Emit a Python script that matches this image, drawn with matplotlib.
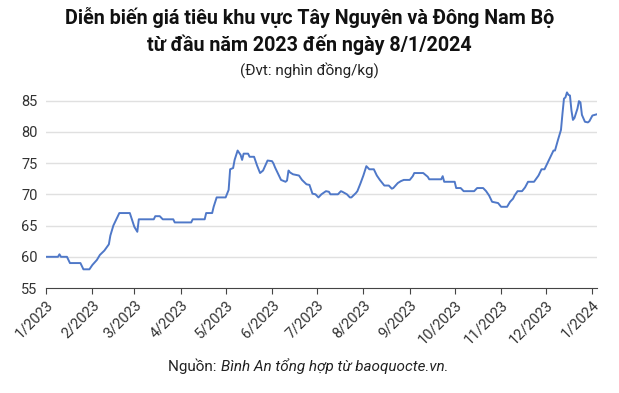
import pandas as pd
import matplotlib
matplotlib.use("Agg")
import matplotlib.pyplot as plt
import matplotlib.dates as mdates

plt.rcParams["font.family"] = ["Roboto", "DejaVu Sans"]

# pepper price, thousand VND/kg
dates = [
    "2023-01-01", "2023-01-09", "2023-01-10", "2023-01-11", "2023-01-15", "2023-01-17",
    "2023-01-24", "2023-01-26", "2023-01-30", "2023-02-01", "2023-02-04", "2023-02-06",
    "2023-02-09", "2023-02-12", "2023-02-13", "2023-02-15", "2023-02-17", "2023-02-19",
    "2023-02-26", "2023-03-01", "2023-03-03", "2023-03-04", "2023-03-14", "2023-03-15",
    "2023-03-18", "2023-03-20", "2023-03-27", "2023-03-28", "2023-04-08", "2023-04-09",
    "2023-04-17", "2023-04-18", "2023-04-22", "2023-04-23", "2023-04-25", "2023-05-01",
    "2023-05-03", "2023-05-04", "2023-05-06", "2023-05-07", "2023-05-09", "2023-05-11",
    "2023-05-12", "2023-05-13", "2023-05-16", "2023-05-17", "2023-05-20", "2023-05-22",
    "2023-05-24", "2023-05-26", "2023-05-29", "2023-06-01", "2023-06-02", "2023-06-03",
    "2023-06-05", "2023-06-07", "2023-06-10", "2023-06-11", "2023-06-12", "2023-06-13",
    "2023-06-15", "2023-06-19", "2023-06-21", "2023-06-24", "2023-06-26", "2023-06-28",
    "2023-06-30", "2023-07-02", "2023-07-04", "2023-07-07", "2023-07-09", "2023-07-10",
    "2023-07-15", "2023-07-17", "2023-07-18", "2023-07-21", "2023-07-23", "2023-07-24",
    "2023-07-27", "2023-07-28", "2023-07-30", "2023-08-01", "2023-08-03", "2023-08-05",
    "2023-08-08", "2023-08-10", "2023-08-12", "2023-08-15", "2023-08-18", "2023-08-20",
    "2023-08-21", "2023-08-24", "2023-08-26", "2023-08-28", "2023-09-01", "2023-09-03",
    "2023-09-04", "2023-09-10", "2023-09-13", "2023-09-14", "2023-09-22", "2023-09-23",
    "2023-09-24", "2023-10-01", "2023-10-02", "2023-10-05", "2023-10-07", "2023-10-14",
    "2023-10-16", "2023-10-20", "2023-10-22", "2023-10-24", "2023-10-26", "2023-10-30",
    "2023-11-01", "2023-11-05", "2023-11-07", "2023-11-09", "2023-11-10", "2023-11-12",
    "2023-11-15", "2023-11-17", "2023-11-19", "2023-11-23", "2023-11-26", "2023-11-28",
    "2023-11-30", "2023-12-02", "2023-12-04", "2023-12-06", "2023-12-07", "2023-12-09",
    "2023-12-11", "2023-12-12", "2023-12-13", "2023-12-14", "2023-12-15", "2023-12-16",
    "2023-12-17", "2023-12-18", "2023-12-19", "2023-12-20", "2023-12-22", "2023-12-23",
    "2023-12-24", "2023-12-25", "2023-12-27", "2023-12-29", "2023-12-30", "2024-01-01",
    "2024-01-04",
]
prices = [
    60, 60, 60.4, 60, 60, 59,
    59, 58, 58, 58.7, 59.5, 60.3,
    61, 62, 63.4, 65, 66, 67,
    67, 64.8, 64, 66, 66, 66.5,
    66.5, 66, 66, 65.5, 65.5, 66,
    66, 67, 67, 68, 69.5, 69.5,
    70.7, 74, 74.2, 75.5, 77, 76.3,
    75.5, 76.5, 76.5, 76, 76, 74.6,
    73.4, 73.8, 75.4, 75.3, 74.9, 74.3,
    73.3, 72.3, 72, 72.2, 73.8, 73.5,
    73.2, 73, 72.3, 71.6, 71.5, 70.1,
    70, 69.5, 70, 70.5, 70.4, 70,
    70, 70.5, 70.4, 70, 69.5, 69.5,
    70.2, 70.5, 71.7, 73, 74.5, 74,
    74, 73, 72.3, 71.4, 71.4, 70.9,
    71, 71.8, 72.1, 72.3, 72.3, 72.9,
    73.4, 73.4, 72.8, 72.4, 72.4, 72.9,
    72, 72, 71, 71, 70.5, 70.5,
    71, 71, 70.5, 69.8, 68.8, 68.6,
    68, 68, 68.8, 69.3, 69.8, 70.5,
    70.5, 71.1, 72, 72, 73, 74,
    74, 75, 76, 77, 77, 78.7,
    80.3, 82.9, 85.3, 85.5, 86.3, 85.9,
    85.8, 83.4, 81.9, 82.2, 83.7, 84.9,
    84.7, 82.7, 81.6, 81.5, 81.7, 82.6,
    82.8,
]
y_ticks = [55, 60, 65, 70, 75, 80, 85]

df = pd.DataFrame({"date": pd.to_datetime(dates), "price": prices})

fig = plt.figure(figsize=(6.19, 3.93), dpi=100)
ax = fig.add_axes([0.0743, 0.267, 0.890, 0.517])

ax.plot(df["date"], df["price"], color="#4f78c8", lw=1.4, solid_joinstyle="round")

ax.set_ylim(55, 87.5)
ax.set_xlim(pd.Timestamp("2023-01-01"), pd.Timestamp("2024-01-04"))
ax.set_yticks(y_ticks)
for v in y_ticks[1:]:
    ax.axhline(v, color="#e0e0e0", lw=1, zorder=0)


def month_label(x, pos):
    d = mdates.num2date(x)
    return f"{d.month}/{d.year}"


ax.xaxis.set_major_locator(mdates.MonthLocator())
ax.xaxis.set_major_formatter(plt.FuncFormatter(month_label))
plt.setp(ax.get_xticklabels(), rotation=45, ha="right", rotation_mode="anchor")

for s in ["top", "right", "left"]:
    ax.spines[s].set_visible(False)
ax.spines["bottom"].set_color("#444444")
ax.tick_params(axis="y", length=0, labelsize=10.5, colors="#333333", pad=6)
ax.tick_params(axis="x", length=4, color="#444444", labelsize=10.5, labelcolor="#333333", pad=3)

fig.text(0.5, 0.955, "Diễn biến giá tiêu khu vực Tây Nguyên và Đông Nam Bộ",
         ha="center", va="center", fontsize=14.2, fontweight="bold", color="#111111")
fig.text(0.5, 0.885, "từ đầu năm 2023 đến ngày 8/1/2024",
         ha="center", va="center", fontsize=14.2, fontweight="bold", color="#111111")
fig.text(0.5, 0.822, "(Đvt: nghìn đồng/kg)", ha="center", va="center",
         fontsize=11, color="#222222")

t1 = fig.text(0.272, 0.068, "Nguồn: ", ha="left", va="center", fontsize=11, color="#222222")
ax.annotate("Bình An tổng hợp từ baoquocte.vn.", xy=(1, 0.5), xycoords=t1,
            ha="left", va="center", fontsize=11, style="italic", color="#222222")

fig.savefig("out.png", dpi=100)
